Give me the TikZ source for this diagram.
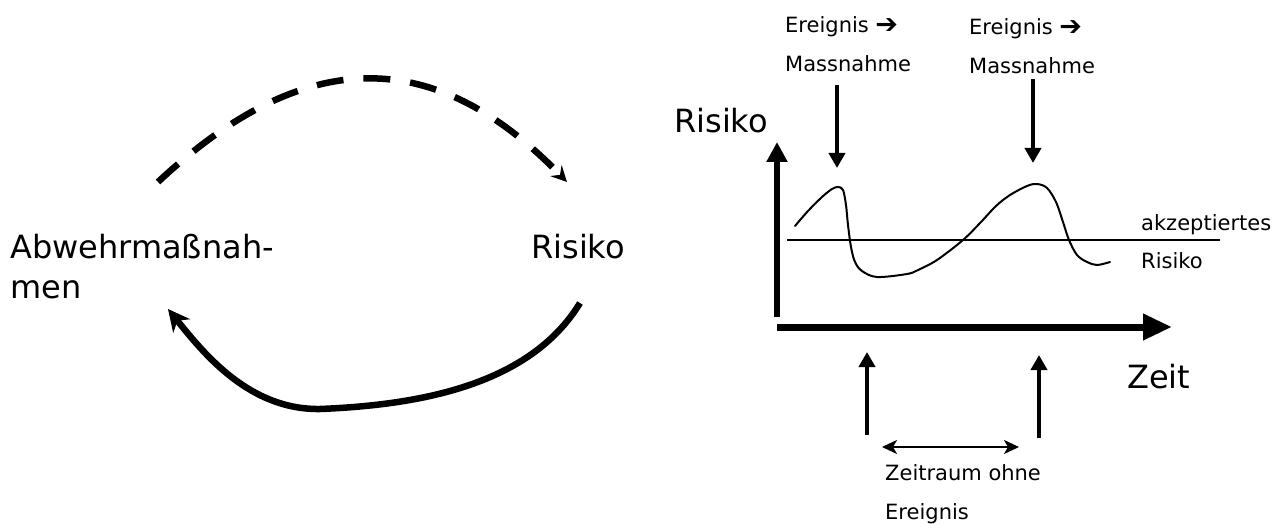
\documentclass[tikz,border=0pt]{standalone}
\usepackage{fontspec}
\setmainfont{DejaVu Sans}
\usetikzlibrary{arrows.meta}
\newcommand{\thenarrow}{\raisebox{-1pt}{\fontsize{27}{27}\selectfont\bfseries ➔}}
\begin{document}
\begin{tikzpicture}[x=1pt,y=-1pt,
  big/.style={inner sep=0pt, anchor=base west, font=\fontsize{32}{40}\selectfont},
  small/.style={inner sep=0pt, anchor=base west, font=\fontsize{21}{26}\selectfont},
  axis/.style={line width=#1, -{Triangle[length=20pt,width=20pt]}},
  marker/.style={line width=4pt, -{Triangle[length=15pt,width=16pt]}},
  cycle/.style={line width=6.5pt},
]
\useasboundingbox (0,0) rectangle (1283,524);

% ---- cycle: measures and risk ----
\node[big] (abw1) at (10,258) {Abwehrmaßnah-};
\node[big] (abw2) at (10,298) {men};
\node[big] (risL) at (531,258) {Risiko};

\coordinate (dStart) at (158,182);
\coordinate (dEnd)   at (567,182);
\coordinate (sStart) at (580,303);
\coordinate (sEnd)   at (168,309);

\draw[cycle, dash pattern=on 27pt off 20pt,
      -{Stealth[length=16pt,width=16pt,inset=6pt,line width=0pt]}]
  (dStart) .. controls (312,38) and (441,52) .. (dEnd);
\draw[cycle, -{Stealth[length=22pt,width=22pt,inset=7pt,line width=0pt]}]
  (sStart) .. controls (530,385) and (420,405) .. (320,409)
           .. controls (250,410) and (205,355) .. (sEnd);

% ---- risk over time ----
\coordinate (o)    at (777,317);
\coordinate (yTip) at (777,142);
\coordinate (xO)   at (777,327);
\coordinate (xTip) at (1172,327);
\draw[axis=6pt] (o) -- (yTip);
\draw[axis=7pt, -{Triangle[length=29pt,width=25pt]}] (xO) -- (xTip);

\node[big] (risY) at (674,133) {Risiko};
\node[big] (zeit) at (1127,388) {Zeit};

% accepted risk level
\coordinate (thL) at (787,240);
\coordinate (thR) at (1220,240);
\draw[line width=1.6pt] (thL) -- (thR);
\node[small] (akz)  at (1141,230) {akzeptiertes};
\node[small] (akz2) at (1141,268) {Risiko};

% risk curve
\draw[line width=2pt, line cap=round, line join=round]
  plot[smooth, tension=0.55] coordinates {
    (795,226) (808,211) (822,197) (832,189) (838,187) (843,190)
    (846,205) (848,225) (851,247) (855,262) (862,271) (877,277)
    (907,274) (918,270) (937,260) (963,240) (981,222) (996,206)
    (1010,195) (1027,186) (1037,184) (1047,188) (1056,202)
    (1063,222) (1069,240) (1077,255) (1087,262) (1097,265) (1110,262)};

% events leading to measures
\node[small] (ev1a) at (785,33) {Ereignis \thenarrow};
\node[small] (ev1b) at (785,72) {Massnahme};
\node[small] (ev2a) at (969,35) {Ereignis \thenarrow};
\node[small] (ev2b) at (969,74) {Massnahme};
\coordinate (m1top) at (837,85);
\coordinate (m1tip) at (837,168);
\coordinate (m2top) at (1033,79);
\coordinate (m2tip) at (1033,163);
\draw[marker] (m1top) -- (m1tip);
\draw[marker] (m2top) -- (m2tip);

% events on the time axis
\coordinate (u1low) at (867,435);
\coordinate (u1tip) at (867,352);
\coordinate (u2low) at (1039,438);
\coordinate (u2tip) at (1039,355);
\draw[marker] (u1low) -- (u1tip);
\draw[marker] (u2low) -- (u2tip);

% interval without events
\coordinate (gapL) at (882,447);
\coordinate (gapR) at (1019,447);
\draw[line width=2pt, {Stealth[length=15pt,width=14pt,inset=4pt]}-{Stealth[length=15pt,width=14pt,inset=4pt]}] (gapL) -- (gapR);
\node[small] (zr1) at (885,480) {Zeitraum ohne};
\node[small] (zr2) at (885,519) {Ereignis};
\end{tikzpicture}
\end{document}
